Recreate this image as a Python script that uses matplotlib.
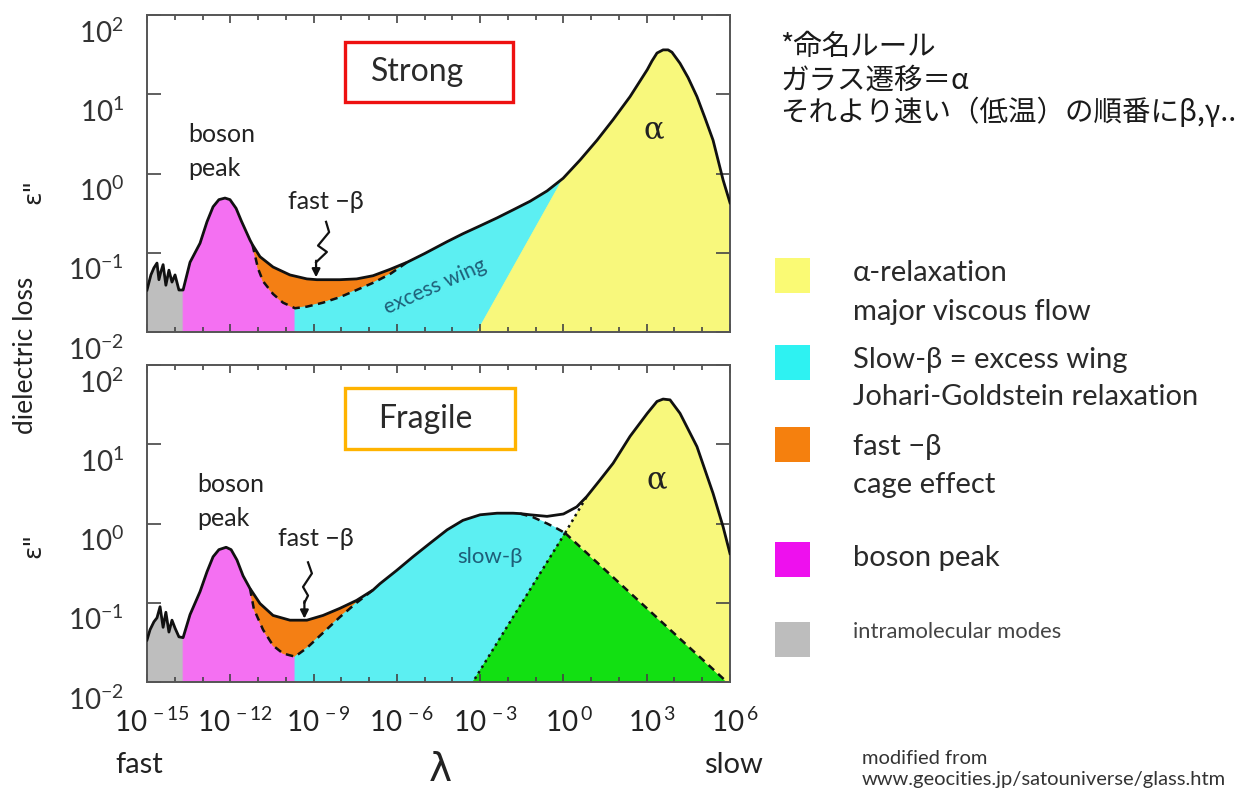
import numpy as np
import matplotlib
matplotlib.use("Agg")
import matplotlib.pyplot as plt
from matplotlib.patches import Polygon, Rectangle
from matplotlib.ticker import FixedLocator, NullLocator
from matplotlib.transforms import blended_transform_factory, ScaledTranslation

plt.rcParams['font.family'] = ['Lato', 'DejaVu Sans']
plt.rcParams['mathtext.fontset'] = 'custom'
plt.rcParams['mathtext.rm'] = 'Lato'
plt.rcParams['mathtext.it'] = 'Lato:italic'
plt.rcParams['mathtext.bf'] = 'Lato:bold'

# ---------------- data (log10 lambda, log10 eps'') ----------------
strong_log_lam = np.array([
    -15.0, -14.86, -14.75, -14.64, -14.57, -14.50, -14.42, -14.32, -14.21, -14.10,
    -13.99, -13.85, -13.70, -13.45, -13.09, -12.84, -12.62, -12.41, -12.19, -12.01,
    -11.79, -11.60, -11.29, -11.20, -11.11, -10.93, -10.46, -9.85, -9.24, -8.88,
    -8.05, -7.45, -6.86, -6.25, -5.63, -5.00, -4.19, -3.62, -3.00,
    -2.39, -1.82, -1.20, -0.59, -0.01, 0.60, 1.21, 1.79, 2.40, 3.02,
    3.19, 3.37, 3.59, 3.77, 3.91, 4.20, 4.49, 4.81, 5.10, 5.39, 5.75, 6.00])
strong_log_eps = np.array([
    -1.47, -1.28, -1.19, -1.13, -1.34, -1.24, -1.15, -1.41, -1.22, -1.37,
    -1.28, -1.47, -1.47, -1.12, -0.88, -0.61, -0.42, -0.33, -0.31, -0.33,
    -0.44, -0.60, -0.84, -0.90, -0.95, -1.05, -1.18, -1.28, -1.33, -1.34,
    -1.34, -1.33, -1.29, -1.21, -1.12, -1.01, -0.86, -0.76, -0.66,
    -0.56, -0.46, -0.35, -0.22, -0.06, 0.17, 0.42, 0.68, 0.97, 1.31,
    1.42, 1.52, 1.56, 1.56, 1.53, 1.39, 1.21, 0.97, 0.70, 0.42, -0.08, -0.37])

strong_fastb_log_lam = np.array([-11.20, -11.00, -10.82, -10.46, -10.10, -9.67, -9.24,
                                 -8.66, -8.05, -7.45, -6.86, -6.25, -5.63])
strong_fastb_log_eps = np.array([-0.90, -1.20, -1.36, -1.52, -1.63, -1.70, -1.68,
                                 -1.63, -1.56, -1.47, -1.38, -1.27, -1.12])

# region limits (log10 lambda)
strong_intra_end = -13.70
strong_boson_end = -9.67
strong_alpha_base = -3.11
strong_alpha_top = -0.01

fragile_log_lam = np.array([
    -15.0, -14.89, -14.75, -14.64, -14.53, -14.42, -14.32, -14.21, -14.10, -13.99,
    -13.85, -13.70, -13.45, -13.09, -12.84, -12.62, -12.41, -12.15, -11.97, -11.76,
    -11.54, -11.29, -10.93, -10.46, -9.85, -9.24, -8.66, -8.05, -7.45, -6.86,
    -6.61, -6.00, -5.42, -4.81, -4.19, -3.62, -3.00, -2.39, -1.82, -1.56,
    -1.20, -0.59, 0.00, 0.48, 0.84, 1.32, 1.79, 2.40, 3.02, 3.37,
    3.59, 3.84, 4.20, 4.81, 5.39, 5.75, 6.00])
fragile_log_eps = np.array([
    -1.47, -1.34, -1.24, -1.19, -1.05, -1.31, -1.12, -1.37, -1.22, -1.32,
    -1.43, -1.44, -1.15, -0.86, -0.61, -0.42, -0.33, -0.30, -0.33, -0.46,
    -0.66, -0.82, -1.01, -1.16, -1.22, -1.22, -1.16, -1.07, -0.97, -0.84,
    -0.76, -0.59, -0.42, -0.25, -0.08, 0.04, 0.11, 0.13, 0.13, 0.125,
    0.11, 0.09, 0.12, 0.21, 0.34, 0.55, 0.76, 1.10, 1.39, 1.54,
    1.57, 1.56, 1.39, 0.97, 0.38, -0.04, -0.38])

fragile_fastb_log_lam = np.array([-11.29, -11.15, -10.82, -10.46, -10.10, -9.67, -9.24,
                                  -8.66, -8.05, -7.45, -6.86])
fragile_fastb_log_eps = np.array([-0.82, -1.08, -1.34, -1.54, -1.64, -1.68, -1.57,
                                  -1.38, -1.18, -1.00, -0.84])

fragile_slowb_log_lam = np.array([-1.56, -1.10, -0.59, -0.25, 0.06])
fragile_slowb_log_eps = np.array([0.125, 0.08, 0.0, -0.06, -0.12])

fragile_intra_end = -13.70
fragile_boson_end = -9.67
fragile_green_apex = (0.06, -0.12)
fragile_green_base = (-3.26, 5.89)
fragile_alpha_join = (0.84, 0.34)

LOG_YMIN, LOG_YMAX = -2.0, 2.0
LOG_XMIN, LOG_XMAX = -15.0, 6.0
x_tick_exps = list(range(-15, 7, 3))
y_tick_exps = [2, 1, 0, -1, -2]

# colours
C_YELLOW = '#F8F87C'
C_CYAN = '#5CEFF2'
C_ORANGE = '#F47F14'
C_MAGENTA = '#F470F2'
C_GRAY = '#BEBEBE'
C_GREEN = '#12E012'

# ---------------- figure ----------------
W, H = 1236, 791
fig = plt.figure(figsize=(W / 100, H / 100), dpi=100)
fig.patch.set_facecolor('white')


def fx(px):
    return px / W


def fy(py):
    return 1 - py / H


def seg(xs, ys, lo=-np.inf, hi=np.inf, strict=False):
    if strict:
        m = (xs > lo + 1e-9) & (xs < hi - 1e-9)
    else:
        m = (xs >= lo - 1e-9) & (xs <= hi + 1e-9)
    return list(zip(xs[m], ys[m]))


def fill(ax, verts, color):
    v = 10.0 ** np.array(verts, dtype=float)
    ax.add_patch(Polygon(v, closed=True, facecolor=color, edgecolor=color,
                         lw=0.6, zorder=1))


def line(ax, xs, ys, **kw):
    ax.plot(10.0 ** np.asarray(xs), 10.0 ** np.asarray(ys), **kw)


def setup_axes(ax, show_x):
    ax.set_xscale('log')
    ax.set_yscale('log')
    ax.set_xlim(10.0 ** LOG_XMIN, 10.0 ** LOG_XMAX)
    ax.set_ylim(10.0 ** LOG_YMIN, 10.0 ** LOG_YMAX)
    ax.xaxis.set_major_locator(FixedLocator([10.0 ** e for e in x_tick_exps]))
    ax.xaxis.set_minor_locator(FixedLocator([10.0 ** e for e in range(-15, 7)]))
    ax.yaxis.set_major_locator(FixedLocator([10.0 ** e for e in y_tick_exps]))
    ax.yaxis.set_minor_locator(NullLocator())
    ax.tick_params(axis='x', which='major', direction='in', length=6, width=1.2,
                   top=True, bottom=True, color='#444444')
    ax.tick_params(axis='x', which='minor', direction='in', length=3.5, width=1.2,
                   top=True, bottom=True, color='#444444')
    ax.tick_params(axis='y', which='major', direction='in', length=10, width=1.2,
                   left=True, right=True, color='#444444')
    ax.tick_params(which='both', labelleft=False, labelbottom=False,
                   labeltop=False, labelright=False)
    for s in ax.spines.values():
        s.set_color('#555555')
        s.set_linewidth(1.4)
    ytr = blended_transform_factory(ax.transAxes, ax.transData) + \
        ScaledTranslation(-23 / 100, -18 / 100, fig.dpi_scale_trans)
    for e in y_tick_exps:
        ax.text(0, 10.0 ** e, r'$\mathregular{10^{%d}}$' % e, transform=ytr,
                ha='right', va='center', fontsize=20, color='#333333')
    if show_x:
        xtr = blended_transform_factory(ax.transData, ax.transAxes) + \
            ScaledTranslation(5 / 100, -40 / 100, fig.dpi_scale_trans)
        for e in x_tick_exps:
            ax.text(10.0 ** e, 0, r'$\mathregular{10^{\,%d}}$' % e, transform=xtr,
                    ha='center', va='center', fontsize=20, color='#222222')


ax_top = fig.add_axes([fx(147), fy(332), 583 / W, 317 / H])
ax_bot = fig.add_axes([fx(147), fy(682), 583 / W, 317 / H])

# ---------------- strong panel ----------------
ax = ax_top
sx, sy = strong_log_lam, strong_log_eps
fx_, fy_ = strong_fastb_log_lam, strong_fastb_log_eps
fb0, fb1 = fx_[0], fx_[-1]

fill(ax, [(LOG_XMIN, LOG_YMIN)] + seg(sx, sy, hi=strong_intra_end)
     + [(strong_intra_end, LOG_YMIN)], C_GRAY)
fill(ax, [(strong_intra_end, LOG_YMIN)] + seg(sx, sy, strong_intra_end, fb0 - 1e-3)
     + seg(fx_, fy_, hi=strong_boson_end) + [(strong_boson_end, LOG_YMIN)], C_MAGENTA)
fill(ax, seg(fx_, fy_) + seg(sx, sy, fb0, fb1, strict=True)[::-1], C_ORANGE)
fill(ax, [(strong_boson_end, LOG_YMIN)] + seg(fx_, fy_, lo=strong_boson_end)
     + seg(sx, sy, fb1, strong_alpha_top, strict=True)
     + [(strong_alpha_top, np.interp(strong_alpha_top, sx, sy))]
     + [(strong_alpha_base, LOG_YMIN)], C_CYAN)
fill(ax, [(strong_alpha_base, LOG_YMIN)] + seg(sx, sy, lo=strong_alpha_top)
     + [(LOG_XMAX, LOG_YMIN)], C_YELLOW)

line(ax, sx, sy, color='#111111', lw=2.0, zorder=4, solid_joinstyle='round')
line(ax, fx_, fy_, color='#111111', lw=1.8, ls=(0, (3, 2.2)), zorder=3)

# squiggle pointing to the fast-beta minimum
sq_x = [-8.55, -8.44, -8.84, -8.52, -8.91]
sq_y = [-0.61, -0.74, -0.91, -0.99, -1.12]
line(ax, sq_x, sq_y, color='#111111', lw=1.6, zorder=5)
ax.annotate('', xy=(10 ** -8.91, 10 ** -1.31), xytext=(10 ** -8.91, 10 ** -1.10),
            arrowprops=dict(arrowstyle='-|>', color='#111111', lw=1.6,
                            mutation_scale=12, shrinkA=0, shrinkB=0), zorder=5)
setup_axes(ax, show_x=False)

# ---------------- fragile panel ----------------
ax = ax_bot
gx, gy = fragile_log_lam, fragile_log_eps
hx, hy = fragile_fastb_log_lam, fragile_fastb_log_eps
tx, ty = fragile_slowb_log_lam, fragile_slowb_log_eps
h0, h1 = hx[0], hx[-1]
apex = fragile_green_apex
gl, gr = fragile_green_base
aj = fragile_alpha_join

fill(ax, [(LOG_XMIN, LOG_YMIN)] + seg(gx, gy, hi=fragile_intra_end)
     + [(fragile_intra_end, LOG_YMIN)], C_GRAY)
fill(ax, [(fragile_intra_end, LOG_YMIN)] + seg(gx, gy, fragile_intra_end, h0 - 1e-3)
     + seg(hx, hy, hi=fragile_boson_end) + [(fragile_boson_end, LOG_YMIN)], C_MAGENTA)
fill(ax, seg(hx, hy) + seg(gx, gy, h0, h1, strict=True)[::-1], C_ORANGE)
fill(ax, [(fragile_boson_end, LOG_YMIN)] + seg(hx, hy, lo=fragile_boson_end)
     + seg(gx, gy, h1, tx[0], strict=True) + list(zip(tx, ty))
     + [(gl, LOG_YMIN)], C_CYAN)
fill(ax, [apex, (gl, LOG_YMIN), (gr, LOG_YMIN)], C_GREEN)
fill(ax, [apex] + seg(gx, gy, lo=aj[0]) + [(LOG_XMAX, LOG_YMIN), (gr, LOG_YMIN)], C_YELLOW)

line(ax, gx, gy, color='#111111', lw=2.0, zorder=4, solid_joinstyle='round')
line(ax, hx, hy, color='#111111', lw=1.8, ls=(0, (3, 2.2)), zorder=3)
line(ax, tx, ty, color='#111111', lw=1.8, ls=(0, (3, 2.2)), zorder=3)
line(ax, [apex[0], gr], [apex[1], LOG_YMIN], color='#111111', lw=1.8,
     ls=(0, (3, 2.2)), zorder=3)
line(ax, [apex[0], gl], [apex[1], LOG_YMIN], color='#111111', lw=1.8,
     ls=(0, (1, 1.6)), zorder=3)
line(ax, [apex[0], aj[0]], [apex[1], aj[1]], color='#111111', lw=1.8,
     ls=(0, (1, 1.6)), zorder=3)

sq2_x = [-9.20, -9.06, -9.38, -9.20, -9.33]
sq2_y = [-0.49, -0.63, -0.80, -0.91, -1.00]
line(ax, sq2_x, sq2_y, color='#111111', lw=1.6, zorder=5)
ax.annotate('', xy=(10 ** -9.33, 10 ** -1.20), xytext=(10 ** -9.33, 10 ** -0.98),
            arrowprops=dict(arrowstyle='-|>', color='#111111', lw=1.6,
                            mutation_scale=12, shrinkA=0, shrinkB=0), zorder=5)
setup_axes(ax, show_x=True)

# ---------------- panel annotations ----------------
TXT = '#222222'
fig.text(fx(188), fy(135), 'boson', ha='left', va='center', fontsize=18, color=TXT)
fig.text(fx(188), fy(168), 'peak', ha='left', va='center', fontsize=18, color=TXT)
fig.text(fx(326), fy(201), 'fast \u2212\u03b2', ha='center', va='center', fontsize=18, color=TXT)
fig.text(fx(654), fy(130), '\u03b1', ha='center', va='center', fontsize=22, color=TXT,
         family=['DejaVu Serif'])
fig.text(fx(435), fy(287), 'excess wing', ha='center', va='center', fontsize=15,
         color='#1E5E78', rotation=24)

fig.text(fx(197), fy(484), 'boson', ha='left', va='center', fontsize=18, color=TXT)
fig.text(fx(197), fy(518), 'peak', ha='left', va='center', fontsize=18, color=TXT)
fig.text(fx(316), fy(538), 'fast \u2212\u03b2', ha='center', va='center', fontsize=18, color=TXT)
fig.text(fx(657), fy(480), '\u03b1', ha='center', va='center', fontsize=22, color=TXT,
         family=['DejaVu Serif'])
fig.text(fx(490), fy(557), 'slow-\u03b2', ha='center', va='center', fontsize=16, color='#1E5E78')

# titled boxes
for (x0, y0, x1, y1), col, label, tcx in [((345, 42, 513, 102), '#EE1111', 'Strong', 418),
                                          ((345, 388, 515, 449), '#FFB300', 'Fragile', 425)]:
    fig.add_artist(Rectangle((fx(x0), fy(y1)), (x1 - x0) / W, (y1 - y0) / H,
                             transform=fig.transFigure, fill=False, edgecolor=col, lw=2.4))
    fig.text(fx(tcx), fy((y0 + y1) / 2), label, ha='center', va='center',
             fontsize=23, color='#2a2a2a')

# axis titles
fig.text(fx(26), fy(355), 'dielectric loss', rotation=90, ha='center', va='center',
         fontsize=19, color=TXT)
for yc in (192, 546):
    fig.text(fx(33), fy(yc), '\u03b5"', rotation=90, ha='center', va='center',
             fontsize=18, color=TXT, family=['DejaVu Sans'])
fig.text(fx(139), fy(765), 'fast', ha='center', va='center', fontsize=21, color=TXT)
fig.text(fx(733), fy(765), 'slow', ha='center', va='center', fontsize=21, color=TXT)
fig.text(fx(440), fy(770), '\u03bb', ha='center', va='center', fontsize=28, color=TXT,
         family=['DejaVu Sans'])

# naming rule note
jp = ['Noto Sans CJK JP', 'DejaVu Sans']
for yc, s in [(47, '*命名ルール'), (81, 'ガラス遷移＝α'), (113, 'それより速い（低温）の順番にβ,γ..')]:
    fig.text(fx(780), fy(yc), s, ha='left', va='center', fontsize=20.5, color='#1a1a1a',
             family=jp)

# legend
legend_colors = ['#FAFA74', '#2EF2F2', '#F5800E', '#EE10EE', '#BDBDBD']
legend_lines = [['\u03b1-relaxation', 'major viscous flow'],
                ['Slow-\u03b2 = excess wing', 'Johari-Goldstein relaxation'],
                ['fast \u2212\u03b2', 'cage effect'],
                ['boson peak'],
                ['intramolecular modes']]
square_tops = [258, 345, 427, 542, 622]
line_centers = [[273, 312], [360, 397], [447, 485], [558], [632]]
for col, labs, top, ycs in zip(legend_colors, legend_lines, square_tops, line_centers):
    fig.add_artist(Rectangle((fx(775), fy(top + 35)), 35 / W, 35 / H,
                             transform=fig.transFigure, facecolor=col, edgecolor='none'))
    small = labs[0].startswith('intra')
    for lab, yc in zip(labs, ycs):
        fig.text(fx(853), fy(yc), lab, ha='left', va='center',
                 fontsize=15.8 if small else 21, color='#444444' if small else '#2a2a2a')

fig.text(fx(862), fy(758), 'modified from', ha='left', va='center', fontsize=14.5,
         color='#333333')
fig.text(fx(862), fy(779), 'www.geocities.jp/satouniverse/glass.htm', ha='left',
         va='center', fontsize=14.5, color='#333333')

fig.savefig('out.png', dpi=100, facecolor='white')
